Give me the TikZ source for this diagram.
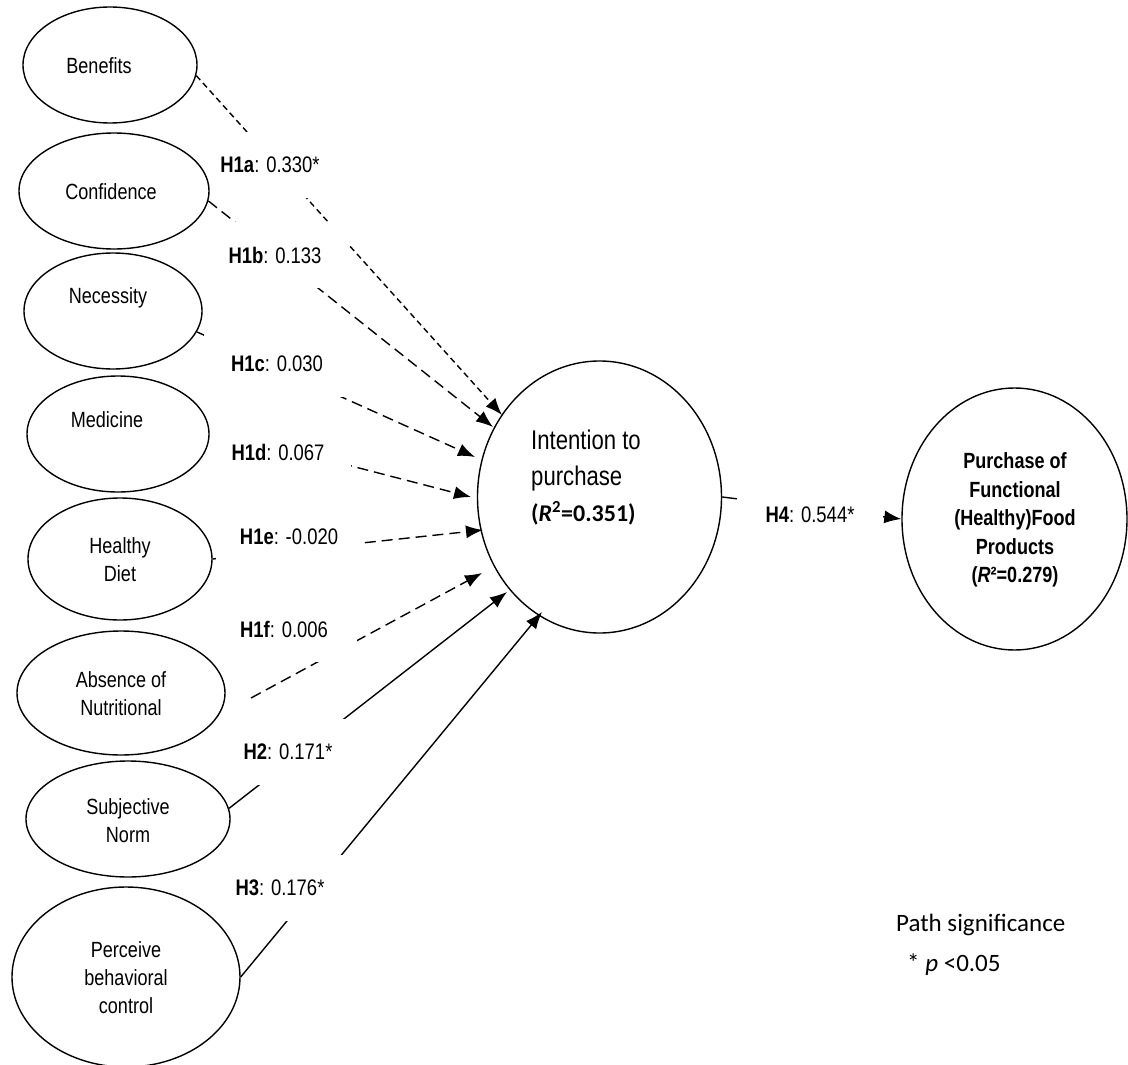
\documentclass[tikz,border=0pt]{standalone}
\usepackage{fontspec}
\setmainfont{Liberation Sans}[FakeStretch=0.82]
\newfontfamily\calfont{Carlito}
\usetikzlibrary{shapes.geometric,arrows.meta}
\pgfdeclarelayer{back}
\pgfsetlayers{back,main}
\begin{document}
\begin{tikzpicture}[x=1pt,y=-1pt,
  ell/.style={ellipse, draw, line width=1.4pt, inner sep=0pt},
  txt/.style={align=center, inner sep=0pt, font=\fontsize{22}{28}\selectfont},
  lab/.style={fill=white, minimum width=146pt, minimum height=66pt, inner sep=0pt, font=\fontsize{22.5}{26}\selectfont},
  conn/.style={line width=1.4pt, -{Latex[length=17pt,width=13pt]}},
  dsA/.style={dash pattern=on 6pt off 4pt},
  dsB/.style={dash pattern=on 11pt off 6pt}]
\useasboundingbox (0,0) rectangle (1128,1065);
% exogenous constructs
\node[ell, minimum width=174pt, minimum height=116pt] (ben) at (110,65) {};
\node[ell, minimum width=190pt, minimum height=116pt] (con) at (114,191) {};
\node[ell, minimum width=178pt, minimum height=116pt] (nec) at (113,311) {};
\node[ell, minimum width=182pt, minimum height=116pt] (med) at (118,434) {};
\node[ell, minimum width=184pt, minimum height=122pt] (hd) at (120,559) {};
\node[ell, minimum width=208pt, minimum height=124pt] (abs) at (121,693) {};
\node[ell, minimum width=204pt, minimum height=116pt] (sn) at (128,819) {};
\node[ell, minimum width=228pt, minimum height=180pt] (pbc) at (126,977) {};
\node[txt] (benT) at (99,66) {Benefits};
\node[txt] (conT) at (111,192) {Confidence};
\node[txt] (necT) at (108,298) {Necessity};
\node[txt] (medT) at (107,420) {Medicine};
\node[txt] (hdT) at (120,560) {Healthy\\Diet};
\node[txt] (absT) at (121,694) {Absence of\\Nutritional};
\node[txt] (snT) at (128,821) {Subjective\\Norm};
\node[txt] (pbcT) at (126,978) {Perceive\\behavioral\\control};
% endogenous constructs
\node[ell, minimum width=244pt, minimum height=272pt] (int) at (599.5,497) {};
\node[ell, minimum width=225pt, minimum height=262pt] (pur) at (1014.5,519) {};
\node[align=left, anchor=west, inner sep=0pt, font=\fontsize{27}{36}\selectfont] (intT) at (531,478)
  {Intention to\\purchase\\{\calfont\bfseries\fontsize{24}{36}\selectfont(\textit{R}\textsuperscript{2}=0.351)}};
\node[txt, font=\bfseries\fontsize{22}{28.5}\selectfont] (purT) at (1015,520)
  {Purchase of\\Functional\\(Healthy)Food\\Products\\(\textit{R}²=0.279)};
% legend
\node[anchor=west, inner sep=0pt, font=\calfont\fontsize{25}{30}\selectfont] (leg1) at (896,925) {Path significance};
\node[anchor=west, inner sep=0pt, font=\calfont\fontsize{25}{30}\selectfont] (leg2) at (907,965) {* \textit{p} <0.05};
% arrow end points
\coordinate (tA) at (502,415);
\coordinate (tB) at (493,427);
\coordinate (tC) at (475,457);
\coordinate (tD) at (471,497);
\coordinate (tE) at (483,530);
\coordinate (tF) at (482,573);
\coordinate (tG) at (507,592);
\coordinate (tH) at (542,612);
\coordinate (cF) at (251,698);
\begin{pgfonlayer}{back}
\fill[white] (0,0) rectangle (1128,1065);
\draw[conn,dsA] (ben.-7) -- (tA);
\draw[conn,dsB] (con.-6) -- (tB);
\draw[conn,dsB] (nec.-14) -- (tC);
\draw[conn,dsB] (med.3) -- (tD);
\draw[conn,dsB] (hd.east) -- (tE);
\draw[conn,dsB] (cF) -- (tF);
\draw[conn] (sn.6) -- (tG);
\draw[conn] (pbc.east) -- (tH);
\draw[conn] (int.east) -- (pur.west);
\node[lab] (la) at (270,165) {\textbf{H1a}: 0.330*};
\node[lab] (lb) at (275,255) {\textbf{H1b}: 0.133};
\node[lab] (lc) at (277,364) {\textbf{H1c}: 0.030};
\node[lab] (ld) at (278,452) {\textbf{H1d}: 0.067};
\node[lab] (le) at (289,537) {\textbf{H1e}: -0.020};
\node[lab] (lf) at (284,629) {\textbf{H1f}: 0.006};
\node[lab] (lg) at (288,752) {\textbf{H2}: 0.171*};
\node[lab] (lh) at (280,888) {\textbf{H3}: 0.176*};
\node[lab] (l4) at (810,515) {\textbf{H4}: 0.544*};
\end{pgfonlayer}
\end{tikzpicture}
\end{document}
